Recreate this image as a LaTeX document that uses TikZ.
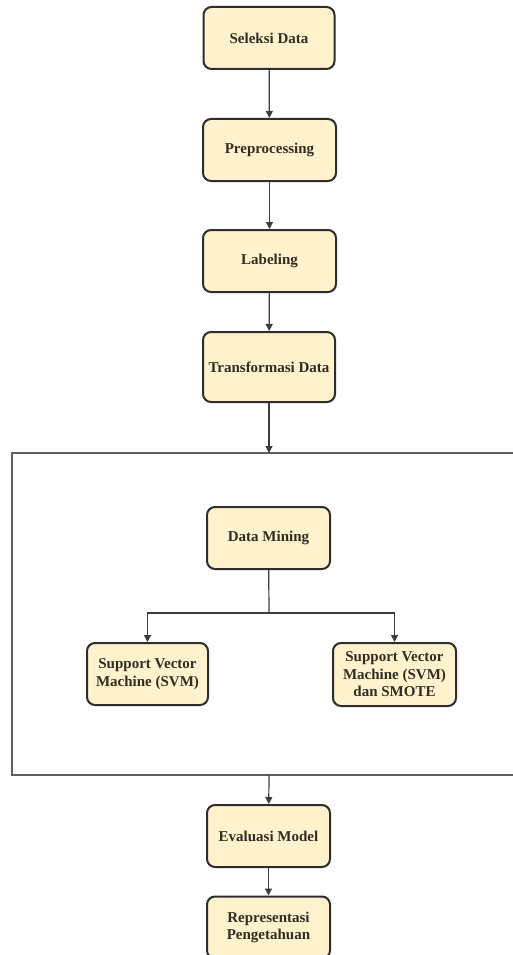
\documentclass[tikz,border=0pt]{standalone}
\usepackage{fontspec}
\setmainfont{Liberation Serif}
\usepackage{tikz}
\usetikzlibrary{arrows.meta}
\definecolor{boxfill}{RGB}{255, 242, 204}
\definecolor{boxline}{RGB}{45, 45, 45}
\definecolor{linkgray}{RGB}{60, 60, 60}
\definecolor{framegray}{RGB}{95, 95, 95}
\definecolor{textdark}{RGB}{50, 45, 35}
\tikzset{
    stage/.style  = {draw=boxline, fill=boxfill, line width=2pt, rounded corners=8pt,
                     minimum width=124pt, minimum height=62pt, align=center, text=textdark,
                     font=\fontsize{15}{17.5}\selectfont\bfseries, inner sep=2pt},
    link/.style   = {draw=linkgray, line width=1.2pt, -{Triangle[length=7pt,width=7pt]}},
    plain/.style  = {draw=linkgray, line width=1.2pt},
    frame/.style  = {draw=framegray, line width=1.4pt}
}

\begin{document}
\begin{tikzpicture}[x=1pt, y=-1pt]
            \useasboundingbox                                   (0, 0) rectangle (513, 955);
            \clip                                               (0, 0) rectangle (513, 955);
            % stages above the frame
            \node[stage, minimum width=131pt]   (seleksi)   at (269.0,  38.0) {Seleksi Data};
            \node[stage, minimum width=133pt]   (prepro)    at (269.5, 150.0) {Preprocessing};
            \node[stage, minimum width=133pt]   (label)     at (269.5, 261.0) {Labeling};
            \node[stage, minimum width=132pt, minimum height=70pt]
                                                (transform) at (269.0, 367.0) {Transformasi Data};
            % data mining frame
            \draw[frame] (520, 453) -- (12, 453) -- (12, 775) -- (520, 775);
            \coordinate (frametop) at (269, 453);
            \coordinate (framebot) at (269, 775);
            \node[stage, minimum width=123pt]   (mining)    at (268.5, 538.0) {Data Mining};
            \coordinate (split) at (269, 613);
            \node[stage, minimum width=121pt]   (svm)       at (147.5, 674.0) {Support Vector\\Machine (SVM)};
            \node[stage, minimum width=123pt, minimum height=63pt]
                                                (smote)     at (394.5, 674.5) {Support Vector\\Machine (SVM)\\dan SMOTE};
            % stages below the frame
            \node[stage, minimum width=123pt]   (evaluasi)  at (268.5, 836.0) {Evaluasi Model};
            \node[stage, minimum width=123pt]   (repr)      at (268.5, 927.5) {Representasi\\Pengetahuan};
            % connectors
            \draw[link]  (seleksi)   -- (prepro);
            \draw[link]  (prepro)    -- (label);
            \draw[link]  (label)     -- (transform);
            \draw[link]  (transform) -- (frametop);
            \draw[plain] (mining)    -- (split);
            \draw[link]  (split)     -| (svm);
            \draw[link]  (split)     -| (smote);
            \draw[link]  (framebot)  -- (evaluasi);
            \draw[link]  (evaluasi)  -- (repr);
\end{tikzpicture}
\end{document}
